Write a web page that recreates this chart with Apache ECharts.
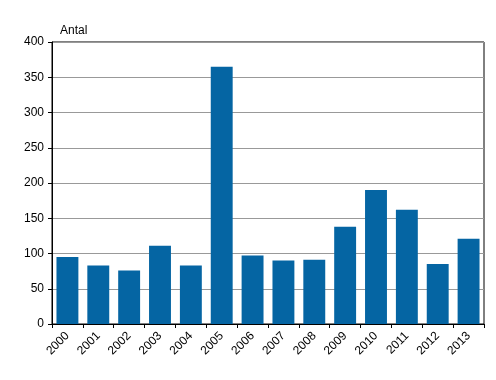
<!DOCTYPE html>
<html><head><meta charset="utf-8">
<script src="https://cdn.jsdelivr.net/npm/echarts@6/dist/echarts.min.js"></script>
<style>html,body{margin:0;padding:0;background:#fff}#c{width:496px;height:380px}</style>
</head><body><div id="c"></div>
<script>
var categories = ['2000','2001','2002','2003','2004','2005','2006','2007','2008','2009','2010','2011','2012','2013'];
var values = [95, 83, 76, 111, 83, 365, 97, 90, 91, 138, 190, 162, 85, 121];
var yTicks = [0, 50, 100, 150, 200, 250, 300, 350, 400];
var yTitle = 'Antal';

var chart = echarts.init(document.getElementById('c'), null, {renderer: 'canvas'});
var font = 'Liberation Sans, Arial, sans-serif';
chart.setOption({
  animation: false,
  backgroundColor: '#fff',
  grid: {left: 52, right: 12, top: 42, bottom: 56, show: true, borderColor: '#000', borderWidth: 1, backgroundColor: 'transparent'},
  title: {text: yTitle, left: 55, top: 20, textStyle: {fontFamily: font, fontSize: 12, fontWeight: 'normal', color: '#000'}},
  xAxis: {
    type: 'category', data: categories,
    axisLine: {lineStyle: {color: '#000', width: 1}},
    axisTick: {show: true, length: 4, lineStyle: {color: '#000'}, alignWithLabel: false},
    axisLabel: {rotate: 45, fontFamily: font, fontSize: 12, color: '#000', margin: 10, interval: 0}
  },
  yAxis: {
    type: 'value', min: yTicks[0], max: yTicks[yTicks.length - 1], interval: 50,
    axisLine: {show: true, lineStyle: {color: '#000', width: 1}},
    axisTick: {show: true, length: 4, lineStyle: {color: '#000'}},
    axisLabel: {fontFamily: font, fontSize: 12, color: '#000', margin: 8},
    splitLine: {show: true, lineStyle: {color: '#999', width: 1}}
  },
  series: [{
    type: 'bar', data: values, barCategoryGap: '29%',
    itemStyle: {color: '#0565A3'}
  }]
});
</script></body></html>
